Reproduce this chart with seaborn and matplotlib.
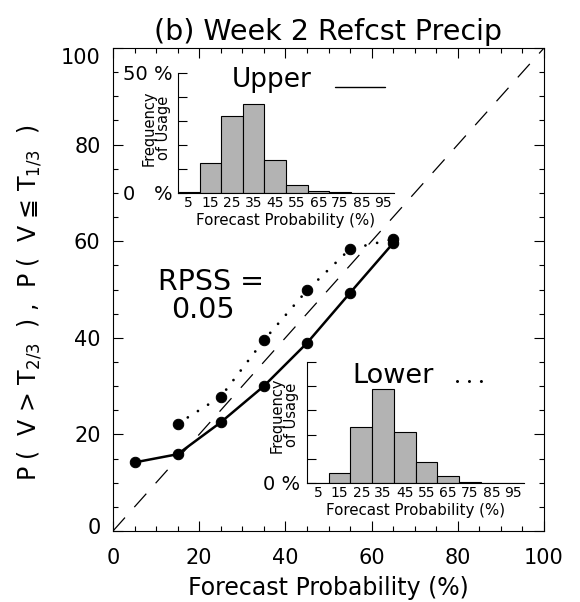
import numpy as np
import pandas as pd
import matplotlib
matplotlib.use("Agg")
import matplotlib.pyplot as plt
import matplotlib.transforms as mtransforms
from matplotlib.lines import Line2D
from matplotlib.ticker import MultipleLocator
import seaborn as sns

# ---------------- data ----------------
fcst_prob_upper = [5, 15, 25, 35, 45, 55, 65]
obs_freq_upper = [14.2, 15.9, 22.5, 30.0, 38.9, 49.3, 59.6]
fcst_prob_lower = [15, 25, 35, 45, 55, 65]
obs_freq_lower = [22.2, 27.8, 39.5, 49.8, 58.4, 60.4]
bin_centers = [5, 15, 25, 35, 45, 55, 65, 75, 85, 95]
usage_upper = [0.6, 12.4, 32.2, 37.0, 13.8, 3.4, 0.9, 0.4, 0.1, 0.0]
usage_lower = [0.0, 4.2, 23.3, 38.8, 21.2, 8.7, 3.0, 0.5, 0.1, 0.0]
diagonal = [0, 100]
main_ticks = [0, 20, 40, 60, 80, 100]
inset_yticks = [0, 10, 20, 30, 40, 50]
rpss = 0.05
title = "(b) Week 2 Refcst Precip"

sns.set_style("ticks")
plt.rcParams["font.family"] = ["DejaVu Sans"]
plt.rcParams["mathtext.fontset"] = "dejavusans"
for k in ("text.color", "axes.labelcolor", "xtick.color", "ytick.color",
          "axes.edgecolor"):
    plt.rcParams[k] = "black"

W, H = 580, 602
fig = plt.figure(figsize=(W / 100, H / 100), dpi=100)

def fx(px):
    return px / W

def fy(py):
    return 1 - py / H

# ---------------- main axes ----------------
ax = fig.add_axes([fx(113), fy(531), (544 - 113) / W, (531 - 48) / H])
ax.set_facecolor("none")

sns.lineplot(x=diagonal, y=diagonal, ax=ax, color="black", lw=0.9,
             linestyle=(0, (14.4, 11.2)))
sns.lineplot(x=fcst_prob_upper, y=obs_freq_upper, ax=ax, color="black", lw=1.8,
             marker="o", markersize=7.5, markeredgecolor="black",
             markerfacecolor="black")
sns.lineplot(x=fcst_prob_lower, y=obs_freq_lower, ax=ax, color="black", lw=2.0,
             linestyle=(0, (0.01, 4.3)), dash_capstyle="round",
             marker="o", markersize=7.5, markeredgecolor="black",
             markerfacecolor="black")

ax.set_xlim(0, 100)
ax.set_ylim(0, 100)
ax.set_xticks(main_ticks)
ax.set_yticks(main_ticks)
ax.xaxis.set_minor_locator(MultipleLocator(5))
ax.yaxis.set_minor_locator(MultipleLocator(5))
ax.tick_params(which="both", direction="in", top=True, right=True,
               width=0.8, color="black", labelcolor="black")
ax.tick_params(which="major", length=7.2, labelsize=15)
ax.tick_params(which="minor", length=3.6)
ax.tick_params(axis="x", pad=12)
ax.tick_params(axis="y", pad=9)
for s in ax.spines.values():
    s.set_linewidth(0.8)
    s.set_color("black")
ax.set_xlabel("")
ax.set_ylabel("")

# offset first/last y tick labels like the original
yt = ax.yaxis.get_major_ticks()
yt[-1].label1.set_transform(yt[-1].label1.get_transform() +
                            mtransforms.ScaledTranslation(0, -8 / 100, fig.dpi_scale_trans))
yt[0].label1.set_transform(yt[0].label1.get_transform() +
                           mtransforms.ScaledTranslation(0, 5 / 100, fig.dpi_scale_trans))

fig.text(fx(328), fy(588), "Forecast Probability (%)", fontsize=17,
         ha="center", va="center")
fig.text(fx(30), fy(303),
         "P (  V > T$_{2/3}$  ) ,  P (  V \u2266 T$_{1/3}$  )",
         fontsize=17, rotation=90, ha="center", va="center")
fig.text(fx(328), fy(40), title, fontsize=20.5, ha="center", va="baseline")

fig.text(fx(211), fy(290), "RPSS =", fontsize=20.5, ha="center", va="baseline")
fig.text(fx(203), fy(318), f"{rpss:.2f}", fontsize=20.5, ha="center", va="baseline")

# ---------------- insets ----------------
def make_inset(rect, usage, zero_label, top_label, pad, ylab_xy):
    a = fig.add_axes(rect)
    a.set_facecolor("none")
    sns.histplot(x=bin_centers, weights=usage, bins=10, binrange=(0, 100),
                 ax=a, color="#b3b3b3", edgecolor="black", linewidth=0.8,
                 alpha=1.0)
    a.set_xlim(0, 100)
    a.set_ylim(0, 50)
    a.set_xticks(bin_centers)
    a.set_xticklabels([str(b) for b in bin_centers])
    a.set_yticks(inset_yticks)
    a.set_yticklabels([zero_label, "", "", "", "", top_label])
    a.tick_params(axis="x", length=0, labelsize=10, pad=2, labelcolor="black")
    a.tick_params(axis="y", direction="in", length=6.5, width=0.8,
                  labelsize=14, pad=pad, color="black", labelcolor="black")
    for side in ("top", "right"):
        a.spines[side].set_visible(False)
    for side in ("left", "bottom"):
        a.spines[side].set_linewidth(0.8)
        a.spines[side].set_color("black")
    a.set_ylabel("")
    a.set_xlabel("")
    a.text(0.5, -0.23, "Forecast Probability (%)", transform=a.transAxes,
           fontsize=10.8, ha="center", va="center")
    a.text(ylab_xy[0], ylab_xy[1], "Frequency\nof Usage", transform=a.transAxes,
           fontsize=10.5, rotation=90, ha="center", va="center",
           multialignment="center", linespacing=0.95)
    return a

axu = make_inset([fx(178), fy(193), 216 / W, 120 / H], usage_upper,
                 "0   %", "50 %", 3.6, (-0.1, 0.54))
axl = make_inset([fx(307), fy(483), 217 / W, 121 / H], usage_lower,
                 "0 %", "", 5.0, (-0.104, 0.56))

# legend-like labels
fig.text(fx(272), fy(87), "Upper", fontsize=19, ha="center", va="baseline")
fig.add_artist(Line2D([fx(335), fx(385)], [fy(87), fy(87)], color="black",
                      lw=1.0, transform=fig.transFigure))
fig.text(fx(393), fy(383), "Lower", fontsize=19.5, ha="center", va="baseline")
fig.add_artist(Line2D([fx(457), fx(482)], [fy(381), fy(381)], color="black",
                      lw=2.2, linestyle=(0, (0.01, 3.9)), dash_capstyle="round",
                      transform=fig.transFigure))

fig.savefig("out.png", dpi=100)
